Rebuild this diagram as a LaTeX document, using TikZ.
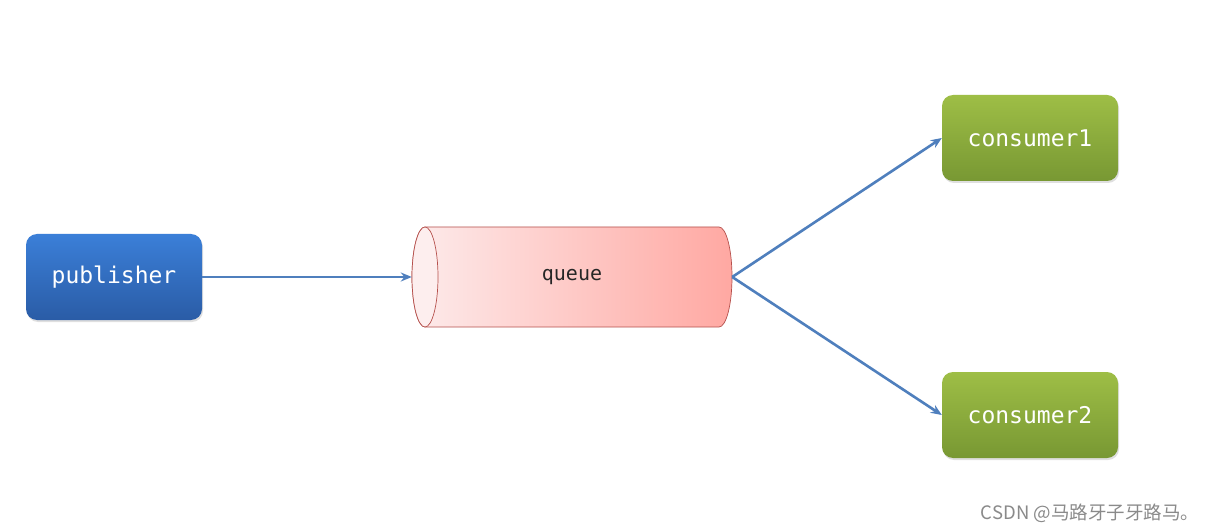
\documentclass[tikz,border=0pt]{standalone}
\usepackage{fontspec}
\newfontfamily\monofont{DejaVu Sans Mono}
\newfontfamily\cjk{Noto Sans CJK SC}
\usetikzlibrary{arrows.meta,shadows}
\definecolor{pubtop}{HTML}{3B7FD8}
\definecolor{pubbot}{HTML}{2A5CA6}
\definecolor{contop}{HTML}{9EBE46}
\definecolor{conbot}{HTML}{789833}
\definecolor{qleft}{HTML}{FDEBEB}
\definecolor{qright}{HTML}{FFA8A2}
\definecolor{qcap}{HTML}{FDEEEE}
\definecolor{qborder}{HTML}{B5504C}
\definecolor{arrowc}{HTML}{4F7FBD}
\definecolor{wm}{HTML}{8A8A8A}
\tikzset{
  x=1pt,y=1pt,
  box/.style={rounded corners=11pt, minimum width=176pt, minimum height=86pt,
    inner sep=0pt, text=white, font=\monofont\fontsize{23}{26}\selectfont,
    drop shadow={opacity=0.25, shadow xshift=1pt, shadow yshift=-2pt}},
  pubbox/.style={box, top color=pubtop, bottom color=pubbot},
  conbox/.style={box, top color=contop, bottom color=conbot},
  conn/.style={draw=arrowc, line width=2.6pt, -{Stealth[length=11pt,width=9pt]}},
}
\begin{document}
\begin{tikzpicture}
\useasboundingbox (0,0) rectangle (1213,531);
\fill[white] (0,0) rectangle (1213,531);
% queue cylinder
\path[draw=qborder, line width=0.7pt, left color=qleft, right color=qright]
  (425,304) -- (719,304) arc[start angle=90,end angle=-90,x radius=13pt,y radius=50pt]
  -- (425,204) arc[start angle=270,end angle=90,x radius=13pt,y radius=50pt] -- cycle;
\draw[qborder, line width=0.7pt, fill=qcap] (425,254) ellipse[x radius=13pt, y radius=50pt];
\node (queue) at (572,254) [minimum width=320pt, minimum height=100pt, inner sep=0pt,
  font=\monofont\fontsize{20}{23}\selectfont, text=black!85] {queue};
\node[pubbox] (pub) at (114,254) {publisher};
\node[conbox] (c1) at (1030,393) {consumer1};
\node[conbox] (c2) at (1030,116) {consumer2};
\draw[conn] (pub.east) -- (queue.west);
\draw[conn] (queue.east) -- (c1.west);
\draw[conn] (queue.east) -- (c2.west);
\node (wmk) at (1090,18) [text=wm, font=\cjk\fontsize{18.5}{20}\selectfont, inner sep=0pt] {CSDN @马路牙子牙路马。};
\end{tikzpicture}
\end{document}
